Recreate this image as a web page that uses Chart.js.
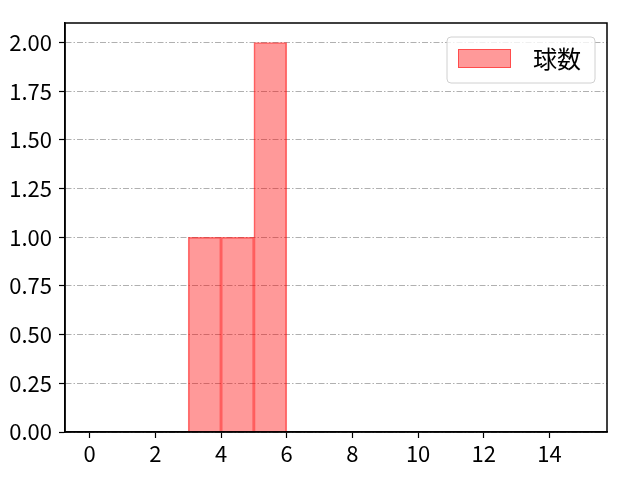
<!DOCTYPE html>
<html>
<head>
<meta charset="utf-8">
<script src="https://cdn.jsdelivr.net/npm/chart.js@4.4.1/dist/chart.umd.min.js"></script>
<style>
  html, body { margin: 0; padding: 0; background: #fff; }
  #wrap { width: 640px; height: 480px; }
</style>
</head>
<body>
<div id="wrap"><canvas id="histChart" width="640" height="480"></canvas></div>
<script>
// histogram data
const binStarts = [3, 4, 5]
const counts = [1, 1, 2]
const seriesLabel = '球数'
const xTicks = [0, 2, 4, 6, 8, 10, 12, 14]
const yTicks = [0, 0.25, 0.5, 0.75, 1, 1.25, 1.5, 1.75, 2]

const FONT = "'Noto Sans CJK JP', 'Noto Sans', sans-serif"

const points = binStarts.map((s, i) => ({ x: s + 0.5, y: counts[i] }))

// frame + legend drawn over the plot like matplotlib
const framePlugin = {
    id: 'frame',
    afterDraw(chart) {
        const { ctx, chartArea: a } = chart
        ctx.save()
        ctx.strokeStyle = '#000'
        ctx.lineWidth = 1.5
        ctx.strokeRect(a.left, a.top, a.right - a.left, a.bottom - a.top)

        // legend
        const bx = 447, by = 37, bw = 148, bh = 46, r = 4
        ctx.fillStyle = 'rgba(255,255,255,0.8)'
        ctx.strokeStyle = '#d0d0d0'
        ctx.lineWidth = 1
        ctx.beginPath()
        ctx.roundRect(bx, by, bw, bh, r)
        ctx.fill()
        ctx.stroke()
        ctx.fillStyle = 'rgba(255,0,0,0.4)'
        ctx.strokeStyle = 'rgba(255,0,0,0.5)'
        ctx.fillRect(458, 49, 53, 19)
        ctx.strokeRect(458.5, 49.5, 52, 18)
        ctx.fillStyle = '#000'
        ctx.font = '24px ' + FONT
        ctx.textBaseline = 'middle'
        ctx.fillText(seriesLabel, 533, 59)
        ctx.restore()
    }
}

const histChart = new Chart(document.getElementById('histChart'), {
    type: 'bar',
    data: {
        datasets: [{
            label: seriesLabel,
            data: points,
            backgroundColor: 'rgba(255,0,0,0.4)',
            borderColor: 'rgba(255,0,0,0.55)',
            borderWidth: 1,
            barPercentage: 1,
            categoryPercentage: 1
        }]
    },
    options: {
        responsive: false,
        animation: false,
        layout: { padding: { left: 0, right: 33, top: 23, bottom: 0 } },
        plugins: { legend: { display: false }, tooltip: { enabled: false } },
        scales: {
            x: {
                type: 'linear',
                offset: false,
                min: -0.75,
                max: 15.75,
                afterBuildTicks: s => { s.ticks = xTicks.map(v => ({ value: v })) },
                afterFit: s => { s.height = 48 },
                grid: { offset: false, drawOnChartArea: false, tickLength: 6, tickColor: '#000', tickWidth: 1.2 },
                border: { color: '#000', width: 1.5 },
                ticks: { color: '#000', font: { family: FONT, size: 22 }, padding: 2, maxRotation: 0 }
            },
            y: {
                min: 0,
                max: 2.1,
                afterBuildTicks: s => { s.ticks = yTicks.map(v => ({ value: v })) },
                afterFit: s => { s.width = 65 },
                grid: { color: '#b0b0b0', lineWidth: 1, tickLength: 6, tickColor: '#000', tickWidth: 1.2 },
                border: { color: '#000', width: 1.5, dash: [6, 2, 1.5, 2] },
                ticks: {
                    color: '#000',
                    font: { family: FONT, size: 22 },
                    padding: 7,
                    callback: v => v.toFixed(2)
                }
            }
        }
    },
    plugins: [framePlugin]
})
</script>
</body>
</html>
